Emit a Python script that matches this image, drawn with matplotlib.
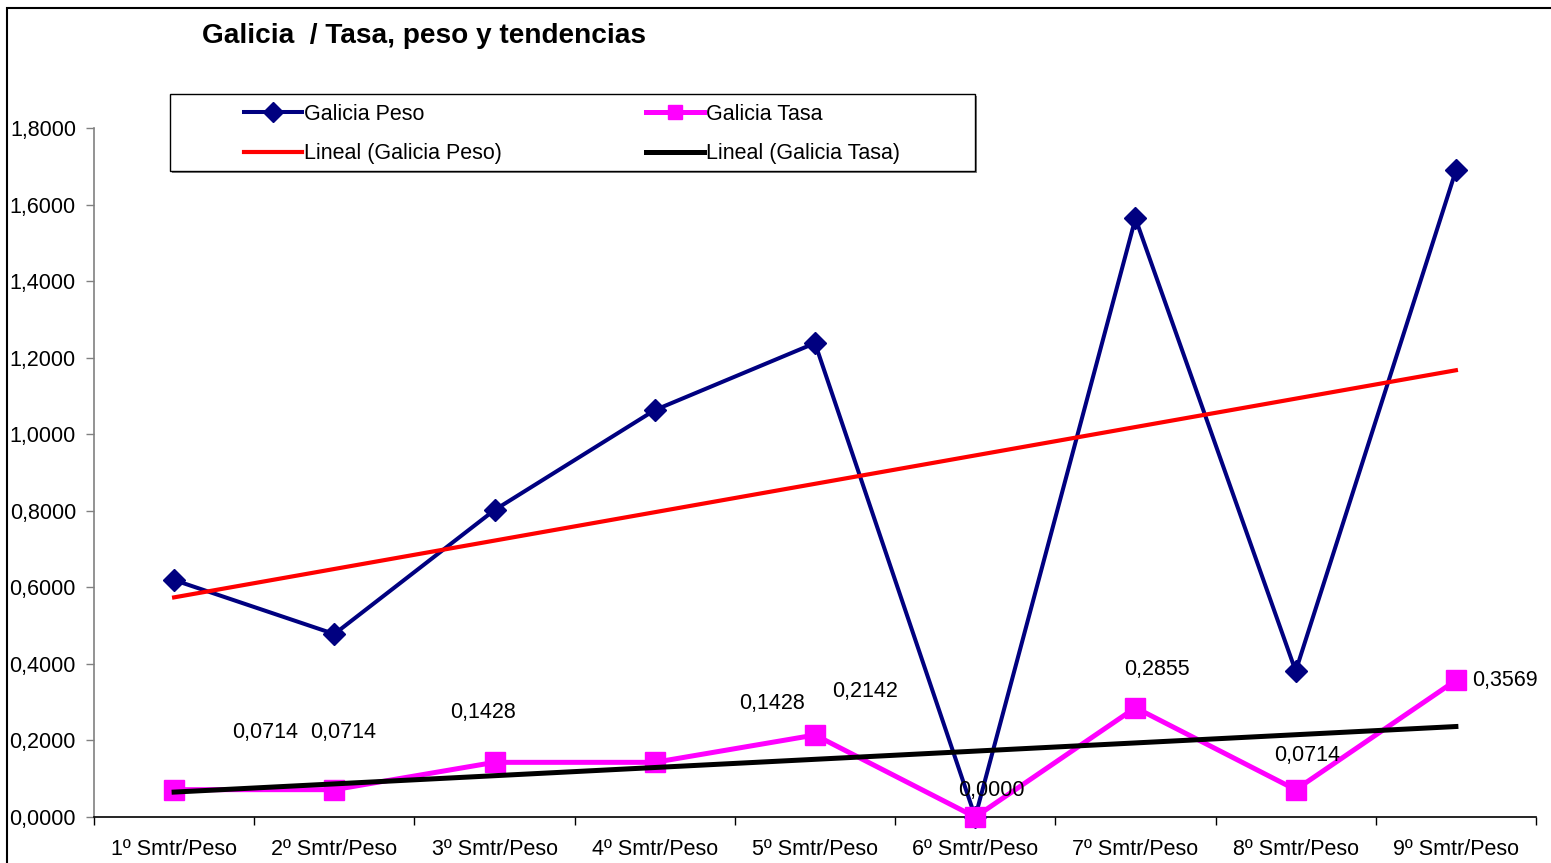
import numpy as np
import matplotlib
matplotlib.use("Agg")
import matplotlib.pyplot as plt
from matplotlib.patches import Rectangle
from matplotlib.ticker import FuncFormatter, FixedLocator

plt.rcParams['font.family'] = ['Liberation Sans', 'DejaVu Sans']

categories = ["1º Smtr/Peso", "2º Smtr/Peso", "3º Smtr/Peso", "4º Smtr/Peso", "5º Smtr/Peso",
              "6º Smtr/Peso", "7º Smtr/Peso", "8º Smtr/Peso", "9º Smtr/Peso"]
peso = [0.619, 0.478, 0.802, 1.063, 1.238, 0.0, 1.564, 0.381, 1.689]
tasa = [0.0714, 0.0714, 0.1428, 0.1428, 0.2142, 0.0, 0.2855, 0.0714, 0.3569]
tasa_labels = ["0,0714", "0,0714", "0,1428", "0,1428", "0,2142", "0,0000", "0,2855", "0,0714", "0,3569"]
yticks = [0.0, 0.2, 0.4, 0.6, 0.8, 1.0, 1.2, 1.4, 1.6, 1.8]

# label offsets in pixels (style)
label_offsets = [(91, 57), (9, 57), (-12, 50), (117, 59), (50, 44), (16, 27), (21, 38), (11, 34), (49, 0)]

W, H = 1551, 863
fig = plt.figure(figsize=(W / 100, H / 100), dpi=100)
ax = fig.add_axes([94 / W, 1 - 817 / H, (1536 - 94) / W, (817 - 128) / H])

x = np.arange(len(categories))
FS = 15.5

l_peso, = ax.plot(x, peso, color='#000080', lw=2.9, marker='D', ms=11, zorder=3, clip_on=False)
l_tasa, = ax.plot(x, tasa, color='#FF00FF', lw=3.6, marker='s', ms=14, zorder=4, clip_on=False)

cp = np.polyfit(x + 1, peso, 1)
ct = np.polyfit(x + 1, tasa, 1)
l_tp, = ax.plot(x, np.polyval(cp, x + 1), color='#FF0000', lw=3.0, zorder=5)
l_tt, = ax.plot(x, np.polyval(ct, x + 1), color='black', lw=3.6, zorder=5)

for i, (lab, off) in enumerate(zip(tasa_labels, label_offsets)):
    ax.annotate(lab, (x[i], tasa[i]), xytext=off, textcoords='offset pixels',
                ha='center', va='center', fontsize=FS, zorder=6)

ax.set_xlim(-0.5, len(categories) - 0.5)
ax.set_ylim(0, 1.8)
ax.set_yticks(yticks)
ax.yaxis.set_major_formatter(FuncFormatter(lambda v, p: f"{v:.4f}".replace('.', ',')))
ax.set_xticks(x)
ax.set_xticklabels(categories)
ax.xaxis.set_minor_locator(FixedLocator(np.arange(-0.5, len(categories), 1.0)))
ax.tick_params(axis='x', which='major', length=0, pad=16, labelsize=FS)
ax.tick_params(axis='x', which='minor', length=6, width=1, direction='out')
ax.tick_params(axis='y', which='major', length=6, width=1, direction='out', pad=7, labelsize=FS,
               color='#808080')

for s in ['top', 'right']:
    ax.spines[s].set_visible(False)
ax.spines['left'].set_color('#808080')
ax.spines['left'].set_linewidth(1.2)
ax.spines['bottom'].set_color('black')
ax.spines['bottom'].set_linewidth(1.2)

# outer chart frame
fig.patches.append(Rectangle((7 / W, -0.5), 2.0, 1.5 - 8 / H, transform=fig.transFigure,
                             fill=False, edgecolor='black', lw=1.5))

fig.text(202 / W, 1 - 36 / H, "Galicia  / Tasa, peso y tendencias", fontsize=20.2, fontweight='bold',
         ha='left', va='center')

# legend box with shadow
fig.patches.append(Rectangle((172 / W, 1 - 173 / H), (975 - 170) / W, (171 - 94) / H,
                             transform=fig.transFigure, facecolor='#808080', edgecolor='none', zorder=1))
fig.patches.append(Rectangle((170 / W, 1 - 171 / H), (975 - 170) / W, (171 - 94) / H,
                             transform=fig.transFigure, facecolor='white', edgecolor='black', lw=1, zorder=2))

leg = fig.legend([l_peso, l_tp, l_tasa, l_tt],
                 ["Galicia Peso", "Lineal (Galicia Peso)", "Galicia Tasa", "Lineal (Galicia Tasa)"],
                 ncol=2, loc='center left', bbox_to_anchor=(244 / W, 1 - 134 / H),
                 frameon=False, fontsize=FS, handlelength=2.7, handletextpad=0.1,
                 columnspacing=6.67, labelspacing=0.87, borderpad=0, borderaxespad=0)
leg.set_zorder(3)
for h in leg.legend_handles:
    h.set_markersize(10)

fig.savefig("out.png", dpi=100)
